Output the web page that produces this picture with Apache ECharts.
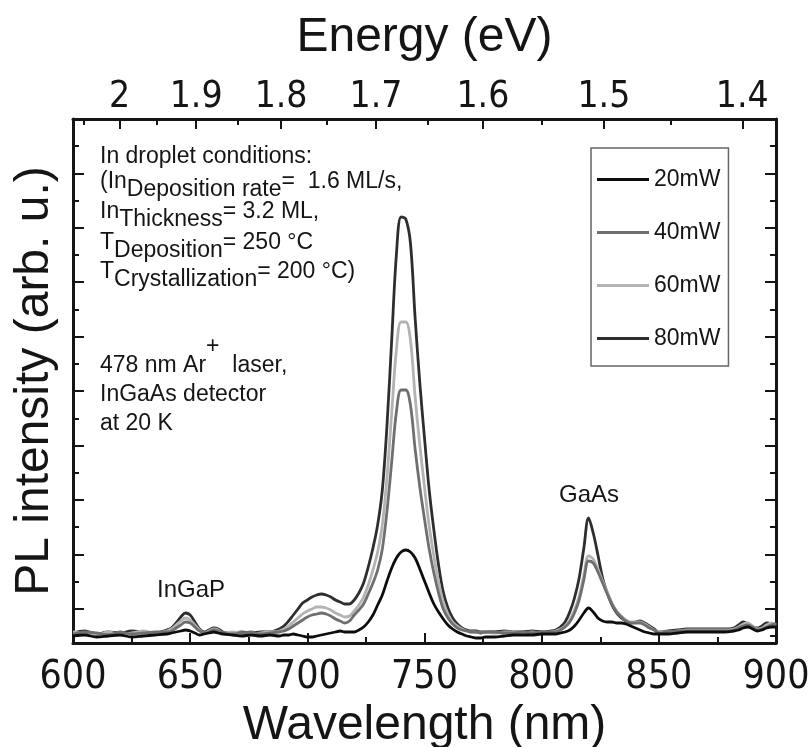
<!DOCTYPE html>
<html>
<head>
<meta charset="utf-8">
<script src="https://cdn.jsdelivr.net/npm/echarts@6/dist/echarts.min.js"></script>
<style>
  html, body { margin: 0; padding: 0; background: #ffffff; }
  #chart { width: 808px; height: 747px; }
</style>
</head>
<body>
<div id="chart"></div>
<script>
// Wavelength grid of the PL spectra (nm)
const wavelength = [600,605,610,615,620,625,630,635,640,642,644,646,648,650,652,654,656,658,660,662,664,668,672,676,680,684,688,690,692,694,696,698,700,702,704,706,708,710,712,714,716,718,720,722,724,726,728,730,732,734,736,738,740,742,744,746,748,750,752,754,756,758,760,762,764,766,768,770,772,774,776,780,784,788,792,796,800,804,806,808,810,812,814,816,818,820,822,824,826,828,830,832,834,836,838,840,842,844,846,848,850,854,858,862,866,870,874,878,882,884,886,888,890,892,894,896,898,900];

// PL intensity (arb. u.) for each excitation power
const pl20mW = [7,8,6,7,8,6,7,8,9, 10,11,12,13,12,10,8,9,10,11,10,9, 8,7,8,7,8,7, 8,8,9,8,7,6,6,7,8,9,10,11,12,11,11,11,13,16,21,28,38,48,62,75,85,91,93,91,85,74,62,50,39,31,24,18,14,11,9,7,6,5,5,6, 6,7,8,8,8,9,9, 9,10,11,13,17,23,30,35,31,25,22,21,21,20,20,19,17,15,13,11,10,9,9, 9,10,11,11,11,11,11,12, 13,15,16,14,12,13,15,16,16];
const pl40mW = [9,11,10,8,11,9,10,11,11, 12,15,18,21,20,16,12,10,11,13,12,10, 9,10,11,9,10,11, 12,14,17,20,23,26,28,29,30,29,27,24,22,20,22,28,33,39,49,60,73,94,132,181,231,253,253,238,194,156,124,94,70,50,34,25,19,15,13,12,11,11,10,11, 11,10,10,11,10,11,11, 11,13,16,21,30,43,63,82,80,71,60,49,39,31,26,22,20,20,20,18,15,13,10, 11,12,12,12,12,12,12,13, 15,17,18,16,13,14,16,18,19];
const pl60mW = [11,10,8,11,9,10,12,10,12, 14,18,22,25,23,18,13,10,12,14,13,10, 11,10,9,10,11,12, 14,17,21,25,29,32,34,36,36,35,33,30,28,26,27,32,38,46,58,73,91,118,166,230,293,321,321,303,246,198,156,117,87,61,41,29,21,17,14,12,11,11,10,11, 10,11,11,10,11,10,11, 12,14,17,23,33,47,68,87,84,74,62,51,40,32,27,23,21,21,21,19,16,13,11, 11,12,13,13,13,13,13,14, 16,19,20,17,14,15,18,20,18];
const pl80mW = [10,12,9,11,10,12,11,10,13, 15,20,26,30,28,21,14,11,13,15,14,11, 10,11,10,11,11,14, 17,22,28,34,40,43,46,48,49,48,46,43,41,39,39,43,50,60,76,95,118,153,218,303,388,426,424,400,325,260,205,153,113,78,51,35,25,19,15,13,12,12,11,11, 11,12,11,11,12,11,12, 13,16,21,31,45,65,95,125,110,88,65,50,38,30,25,22,20,21,22,20,17,14,11, 12,13,14,14,14,14,14,15, 18,21,19,16,15,17,20,19,17];

const seriesNames = ['20mW', '40mW', '60mW', '80mW'];
const seriesColors = ['#0d0d0d', '#6f6f6f', '#b3b3b3', '#2e2e2e'];

// Energy axis ticks (eV), mapped to wavelength with E = hc / lambda
const energyMajor = [2, 1.9, 1.8, 1.7, 1.6, 1.5, 1.4];
const energyMinor = [2.05, 1.95, 1.85, 1.75, 1.65, 1.55, 1.45];
const HC = 1239.84; // eV*nm

// Intensity tick scale (counted down from the top of the frame)
const intensityMajor = [0, 1, 2, 3, 4, 5, 6, 7, 8, 9];
const intensityMinor = [0.5, 1.5, 2.5, 3.5, 4.5, 5.5, 6.5, 7.5, 8.5, 9.5];

const numFont = "'Liberation Sans Narrow', 'Arial Narrow', 'DejaVu Sans Condensed', 'Liberation Sans', sans-serif";
const textFont = "'Liberation Sans', Arial, sans-serif";
const ink = '#151515';

const toNm = e => HC / e;
const pairs = arr => wavelength.map((w, i) => [w, arr[i]]);

const chart = echarts.init(document.getElementById('chart'), null, { renderer: 'canvas' });

const frameLine = { show: true, lineStyle: { color: ink, width: 3 } };

function tickYAxis(position, withName) {
  const ax = {
    type: 'value', position: position, inverse: true, min: 0, max: 9.63,
    axisLine: frameLine,
    axisTick: { show: true, inside: true, length: 11, lineStyle: { color: ink, width: 2 },
                customValues: intensityMajor },
    axisLabel: { show: false },
    splitLine: { show: false }
  };
  if (withName) {
    ax.name = 'PL intensity (arb. u.)';
    ax.nameLocation = 'middle';
    ax.nameGap = 14;
    ax.nameTextStyle = { fontSize: 48, fontFamily: textFont, color: ink };
  }
  return ax;
}
function minorYAxis(position) {
  return {
    type: 'value', position: position, inverse: true, min: 0, max: 9.63,
    axisLine: { show: false },
    axisTick: { show: true, inside: true, length: 6, lineStyle: { color: ink, width: 2 },
                customValues: intensityMinor },
    axisLabel: { show: false },
    splitLine: { show: false }
  };
}

const option = {
  backgroundColor: '#ffffff',
  animation: false,
  grid: { left: 73, right: 32, top: 119, bottom: 104, containLabel: false, outerBoundsMode: 'none' },
  legend: {
    data: seriesNames,
    orient: 'vertical',
    left: 591, top: 148,
    icon: 'rect',
    itemWidth: 52, itemHeight: 3, itemGap: 30,
    padding: [20, 8, 16, 6],
    borderColor: '#666666', borderWidth: 1.5,
    textStyle: { fontSize: 23, fontFamily: textFont, color: ink }
  },
  xAxis: [
    {
      type: 'value', position: 'bottom', min: 600, max: 900, interval: 50,
      axisLine: frameLine,
      axisTick: { show: true, inside: true, length: 10, lineStyle: { color: ink, width: 2 } },
      minorTick: { show: true, splitNumber: 2, length: 6, lineStyle: { color: ink, width: 2 } },
      axisLabel: { fontSize: 39, fontFamily: numFont, color: ink, margin: 15 },
      splitLine: { show: false },
      name: 'Wavelength (nm)', nameLocation: 'middle', nameGap: 46,
      nameTextStyle: { fontSize: 48, fontFamily: textFont, color: ink }
    },
    {
      type: 'value', position: 'top', min: 600, max: 900,
      axisLine: frameLine,
      axisTick: { show: true, inside: true, length: 10, lineStyle: { color: ink, width: 2 },
                  customValues: energyMajor.map(toNm) },
      axisLabel: { show: true, fontSize: 37, fontFamily: numFont, color: ink, margin: 3,
                   customValues: energyMajor.map(toNm),
                   formatter: v => String(Math.round(HC / v * 10) / 10) },
      splitLine: { show: false },
      name: 'Energy (eV)', nameLocation: 'middle', nameGap: 57,
      nameTextStyle: { fontSize: 48, fontFamily: textFont, color: ink }
    },
    {
      type: 'value', position: 'top', min: 600, max: 900,
      axisLine: { show: false },
      axisTick: { show: true, inside: true, length: 6, lineStyle: { color: ink, width: 2 },
                  customValues: energyMinor.map(toNm) },
      axisLabel: { show: false },
      splitLine: { show: false }
    }
  ],
  yAxis: [
    { type: 'value', min: 0, max: 524, show: false },
    tickYAxis('left', true),
    tickYAxis('right', false),
    minorYAxis('left'),
    minorYAxis('right')
  ],
  series: [
    { name: '80mW', data: pairs(pl80mW), color: seriesColors[3] },
    { name: '60mW', data: pairs(pl60mW), color: seriesColors[2] },
    { name: '40mW', data: pairs(pl40mW), color: seriesColors[1] },
    { name: '20mW', data: pairs(pl20mW), color: seriesColors[0] }
  ].map(s => ({
    type: 'line', name: s.name, data: s.data, xAxisIndex: 0, yAxisIndex: 0,
    symbol: 'none', smooth: 0.35, color: s.color,
    lineStyle: { width: 2.8, color: s.color }
  })),
  graphic: [
    { type: 'text', x: 100, y: 145, style: { text: 'In droplet conditions:', fontSize: 23, fontFamily: textFont, fill: ink } },
    { type: 'text', x: 100, y: 170, style: {
        text: '{n|(In}{s|Deposition rate}{n|=  1.6 ML/s,}',
        fontFamily: textFont, fill: ink,
        rich: { n: { fontSize: 23, lineHeight: 23, verticalAlign: 'top', fontFamily: textFont, fill: ink },
                s: { fontSize: 23, lineHeight: 23, verticalAlign: 'top', padding: [8, 0, 0, 0], fontFamily: textFont, fill: ink } } } },
    { type: 'text', x: 100, y: 200, style: {
        text: '{n|In}{s|Thickness}{n|= 3.2 ML,}',
        fontFamily: textFont, fill: ink,
        rich: { n: { fontSize: 23, lineHeight: 23, verticalAlign: 'top', fontFamily: textFont, fill: ink },
                s: { fontSize: 23, lineHeight: 23, verticalAlign: 'top', padding: [8, 0, 0, 0], fontFamily: textFont, fill: ink } } } },
    { type: 'text', x: 100, y: 231, style: {
        text: '{n|T}{s|Deposition}{n|= 250 °C}',
        fontFamily: textFont, fill: ink,
        rich: { n: { fontSize: 23, lineHeight: 23, verticalAlign: 'top', fontFamily: textFont, fill: ink },
                s: { fontSize: 23, lineHeight: 23, verticalAlign: 'top', padding: [8, 0, 0, 0], fontFamily: textFont, fill: ink } } } },
    { type: 'text', x: 100, y: 260, style: {
        text: '{n|T}{s|Crystallization}{n|= 200 °C)}',
        fontFamily: textFont, fill: ink,
        rich: { n: { fontSize: 23, lineHeight: 23, verticalAlign: 'top', fontFamily: textFont, fill: ink },
                s: { fontSize: 23, lineHeight: 23, verticalAlign: 'top', padding: [8, 0, 0, 0], fontFamily: textFont, fill: ink } } } },
    { type: 'text', x: 100, y: 335, style: {
        text: '{n|478 nm Ar}{p|+}{n|  laser,}',
        fontFamily: textFont, fill: ink,
        rich: { n: { fontSize: 23, lineHeight: 23, verticalAlign: 'top', padding: [19, 0, 0, 0], fontFamily: textFont, fill: ink },
                p: { fontSize: 23, lineHeight: 23, verticalAlign: 'top', fontFamily: textFont, fill: ink } } } },
    { type: 'text', x: 100, y: 383, style: { text: 'InGaAs detector', fontSize: 23, fontFamily: textFont, fill: ink } },
    { type: 'text', x: 100, y: 412, style: { text: 'at 20 K', fontSize: 23, fontFamily: textFont, fill: ink } },
    { type: 'text', x: 191, y: 590, style: { text: 'InGaP', fontSize: 24, fontFamily: textFont, fill: ink, align: 'center', verticalAlign: 'middle' } },
    { type: 'text', x: 589, y: 495, style: { text: 'GaAs', fontSize: 24, fontFamily: textFont, fill: ink, align: 'center', verticalAlign: 'middle' } }
  ]
};

chart.setOption(option);
</script>
</body>
</html>
